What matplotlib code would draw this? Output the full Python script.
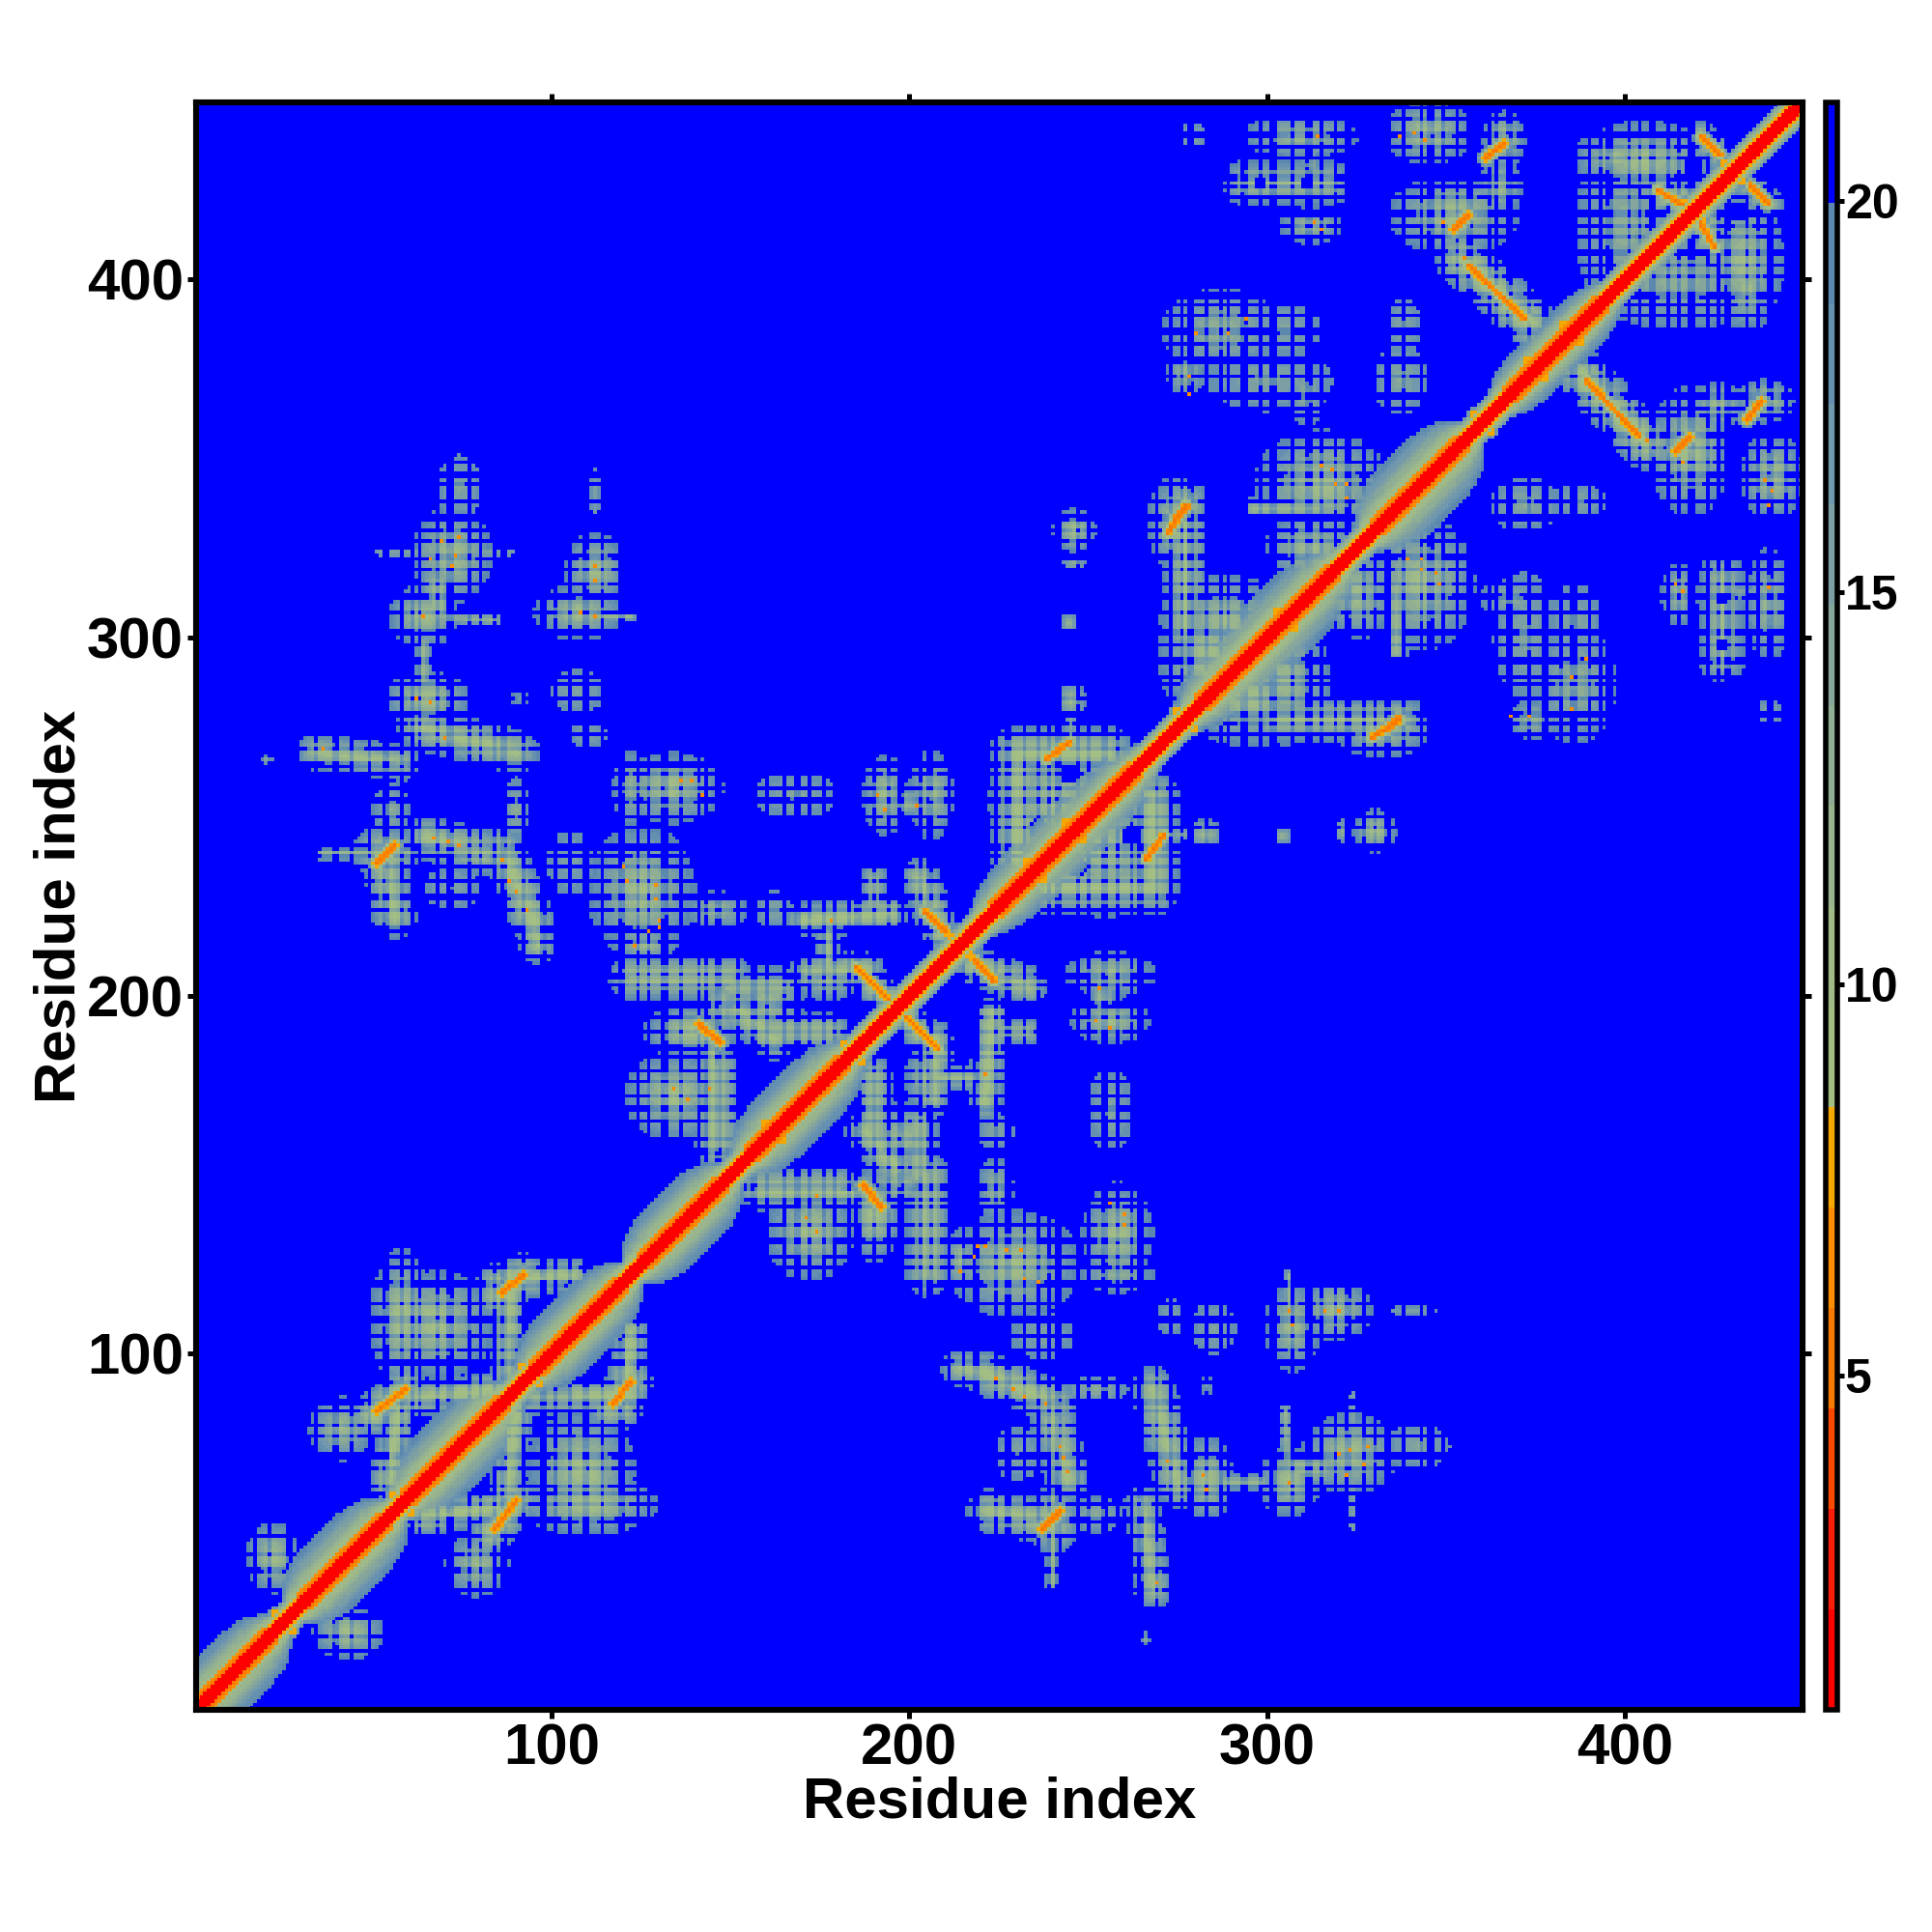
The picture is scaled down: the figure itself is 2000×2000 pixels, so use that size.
#coding:utf-8
import numpy as np
import matplotlib
matplotlib.use('Agg')
import matplotlib.pyplot as plt
from matplotlib.colors import ListedColormap, BoundaryNorm

plt.rcParams['font.family'] = ['Liberation Sans', 'DejaVu Sans']
plt.rcParams['font.weight'] = 'bold'

n_res = 449

# stretches where the band along the diagonal is wide: first residue, last residue, reach in |i-j|
band_start = [-8, 28, 57, 93, 123, 153, 220, 278, 328, 365]
band_end = [24, 56, 89, 122, 150, 184, 267, 322, 357, 396]
band_reach = [15, 16, 16, 15, 15, 15, 14, 16, 17, 12]
thin_reach = 7

# ridges away from the diagonal: x0, y0, x1, y1, half width, distance at the core (A)
arms = [
    (50, 83, 59, 90, 5, 10), (85, 116, 92, 122, 5, 10), (54, 64, 58, 90, 4, 11),
    (87, 95, 87, 118, 3.5, 12), (60, 87, 84, 90, 4, 11), (90, 120, 103, 122, 4, 11),
    (120, 84, 122, 106, 4, 12), (107, 88, 122, 88, 4, 11),
    (122, 205, 150, 205, 5, 11.5), (150, 203, 164, 203, 4, 12), (171, 206, 188, 207, 4, 11.5),
    (184, 208, 196, 197, 4, 11), (203, 233, 208, 218, 4.5, 11), (170, 221, 195, 223, 4, 11),
    (190, 225, 190, 233, 3, 13), (177, 206, 177, 218, 3, 13), (145, 160, 145, 186, 3, 12),
    (152, 196, 162, 188, 5, 11.5), (160, 190, 178, 190, 4, 12), (158, 146, 180, 146, 5, 11),
    (230, 238, 230, 268, 6, 12), (230, 268, 255, 268, 6, 11),
    (302, 277, 338, 277, 5, 12.5), (329, 273, 337, 278, 4, 11), (296, 336, 314, 336, 3, 14),
    (294, 427, 317, 427, 5, 13.5), (354, 406, 373, 388, 6, 10.5),
    (52, 323, 88, 323, 1.5, 15), (64, 306, 84, 305, 1.5, 15), (68, 315, 68, 307, 4, 13),
    (64, 298, 64, 288, 2, 14), (63, 275, 90, 268, 5, 12), (34, 268, 58, 265, 4, 12.5),
    (36, 240, 60, 240, 2, 14), (65, 244, 81, 240, 5, 11.5), (86, 241, 95, 220, 5, 11),
    (95, 220, 96, 214, 4, 12), (53.5, 236, 56, 222, 5, 11.5), (104, 306, 122, 306, 1.2, 15),
    (421, 440, 426.4, 435, 3.5, 11), (409, 425, 418, 419.5, 4, 11),
]

# orange streaks inside the ridges, same columns as arms
streaks = [
    (51, 84, 59, 90, 2.4, 5.5), (86, 117, 92, 122, 2.4, 5.5), (185, 208, 196, 197, 2, 5.8),
    (204, 223.5, 210, 218, 2.4, 5.5), (141, 192, 147, 187, 2.4, 5.5), (238, 266, 245, 271, 2.2, 5.5),
    (274, 333, 277.5, 336.5, 2.2, 5.5), (329, 272, 337, 277, 2.2, 5.5), (361, 434, 366, 438, 2.4, 5.5),
    (352, 414, 356, 418, 2.4, 5.3), (356, 404, 372, 389, 2.2, 5.6), (51, 237, 56, 242, 2.4, 5.5),
    (421, 440, 426.4, 435, 2.2, 5.6), (409, 425, 418, 419.5, 2.2, 5.6),
]

# residues where a short orange spur crosses the diagonal
spur_centers = [25, 58, 94, 162, 184, 214, 235, 246, 277, 305, 360, 375, 385, 419, 430]

# elliptical patches: centre x, centre y, radius x, radius y, distance at the centre
patches = [
    (22, 43, 6, 8, 12), (41, 79, 7, 7, 13), (58, 110, 7, 16, 11), (67, 111, 14, 7, 12),
    (108, 68, 12, 13, 11.5), (125, 229, 12, 15, 11.5), (126, 214, 7, 3, 13),
    (133, 258, 12, 8, 11.5), (122, 258, 4, 8, 15), (168, 256, 9, 5, 17),
    (193, 256, 5, 9, 12), (206, 256, 5, 10, 12), (199, 254, 6, 3, 12),
    (146, 224, 7, 4, 13.5), (162, 224, 4, 4, 17), (139, 190, 11, 6, 11), (134, 172, 11, 10, 11.5),
    (147, 197, 4, 8, 12), (198, 160, 7, 8, 12.5), (205, 177, 5, 8, 12), (240, 255, 14, 16, 13),
    (246, 330, 5, 5, 11.5), (246, 321, 2.5, 2, 16), (244.5, 304, 2, 2.5, 15),
    (245, 282.5, 3.5, 4, 13), (245, 276, 1.5, 3, 16), (275, 332, 7, 11, 11.5), (279, 313, 4, 6, 16),
    (283, 295, 11, 14, 12), (305, 288, 10, 14, 13), (315, 343, 15, 12, 11.5), (312, 325, 10, 8, 12),
    (287, 386, 13, 9, 14.5), (277, 374, 4, 6, 14), (300, 372, 14, 7, 17), (311, 368, 4, 7, 16),
    (305, 386, 8, 6, 17), (312, 415, 7, 4, 13), (309, 440, 13, 4.5, 13.5), (312, 432, 2, 4, 15),
    (279, 440, 3, 3, 17), (345, 441, 10, 7, 11.5), (366, 439, 5, 6.5, 10.5), (365, 426, 5, 6, 12),
    (352, 418, 15, 9, 11.5), (337, 372, 6, 8, 16.5), (338, 387, 4, 6, 17),
    (405, 433, 16, 9, 12), (415, 422, 10, 6, 12), (415, 400, 20, 11, 15), (434, 397, 5, 9, 12),
    (72, 323, 9, 11, 11.5), (74, 342, 5, 7, 17), (64, 306, 8, 7, 11.5), (65, 283, 10, 6, 11.5),
    (20.7, 265.3, 1.5, 1.5, 12), (53.5, 240, 8, 6, 10.5), (112, 319, 7, 8, 12),
    (107.5, 307, 10, 6, 12.5), (112, 340, 1, 6, 18), (91, 283, 3, 1, 15), (107, 285, 6, 5, 17.5),
    (110, 273, 4, 3, 18), (55, 252, 4, 6, 16), (90, 252, 3, 7, 16), (105, 237, 5, 7, 18),
    (72, 230, 6, 5, 17.5),
]

# round gaps inside the patches: x, y, radius
holes = [
    (236, 246.5, 3), (245, 262, 3), (298, 427, 1.5), (311, 427, 1.5), (419, 431, 3),
    (430, 418.6, 3), (411, 419.5, 1.5),
]

# single orange cells
hot_x = [72.8, 69.3, 73.6, 65.5, 72.4, 112.4, 112.4, 108, 112, 64.3, 65.7, 62.5, 70, 36.5, 135.7, 141.6, 139.3,
         120.5, 121.4, 129, 126.7, 130.4, 129, 88, 90.4, 92.6, 86, 70.6, 73.8, 66.6, 129.9, 126.7, 123, 178,
         191, 193, 202, 134, 137.5, 144.2, 220.6, 315, 317.7, 318.6, 321.7, 322.2, 289, 280.4, 294.3, 277.7,
         278, 341, 344, 337, 313.2, 315.4, 314, 348.7, 355.4]
hot_y = [323.4, 327, 327.5, 322.5, 319.8, 319.8, 316, 306.7, 306, 305.8, 282, 283, 272, 269, 260.4, 256.3, 260,
         235.6, 232, 227, 218, 219, 230.7, 232.5, 229, 224.4, 238, 243.3, 242, 243.7, 220.8, 218, 213.6, 220.8,
         256.3, 252.3, 253.2, 174, 170.8, 173.5, 178, 347.5, 347, 343.4, 343.4, 339.4, 385.3, 384.8, 388.9, 372.7,
         367.7, 441, 439.3, 439.8, 416, 414, 439.7, 416, 405.5]

# residues whose rows and columns look thinned out in the map
gap_residues = [2, 3, 8, 11, 12, 17, 21, 26, 27, 29, 34, 39, 40, 44, 49, 53, 54, 58, 61, 63, 68, 71, 72, 77, 80, 84,
                86, 87, 92, 97, 98, 101, 105, 109, 110, 114, 119, 120, 124, 127, 131, 132, 136, 141, 143, 146, 147,
                152, 156, 157, 160, 165, 168, 169, 172, 176, 179, 183, 185, 186, 190, 194, 197, 198, 203, 205, 206,
                211, 215, 218, 219, 224, 227, 228, 232, 236, 239, 241, 242, 247, 250, 254, 255, 258, 262, 264, 265,
                269, 273, 276, 278, 279, 283, 287, 289, 293, 294, 298, 301, 302, 307, 311, 312, 315, 319, 322, 323,
                327, 330, 333, 334, 338, 343, 345, 346, 349, 353, 356, 357, 362, 364, 367, 368, 373, 377, 378, 382,
                385, 386, 390, 393, 395, 396, 401, 404, 407, 408, 412, 415, 418, 419, 423, 426, 428, 429, 434, 437,
                440, 441, 445, 448]

# colour levels of the scale
level_colors = ['#ff0000', '#f81e08', '#fb4a00', '#f97a00', '#fb8d00', '#f5a800',
                '#a3bf84', '#a0bb88', '#98b58e', '#90ae94', '#86a69c', '#7c9fa4', '#7198ac', '#6590b0', '#5c88b0',
                '#0000ff']
scale_min = 0.73
scale_max = 21.26
scale_ticks = [5, 10, 15, 20]
axis_ticks = [100, 200, 300, 400]

idx = np.arange(1, n_res + 1)
X, Y = np.meshgrid(idx, idx)
dist = np.full((n_res, n_res), 30.0)


def ridge_distance(x0, y0, x1, y1):
    dx, dy = x1 - x0, y1 - y0
    t = np.clip(((X - x0) * dx + (Y - y0) * dy) / float(dx * dx + dy * dy), 0, 1)
    return np.hypot(X - x0 - t * dx, Y - y0 - t * dy)


# broad contacts, they fade out past their edge so the plaid below can fringe them
for x0, y0, x1, y1, w, core in arms:
    d = ridge_distance(x0, y0, x1, y1) / w
    dist = np.minimum(dist, np.where(d < 1.3, core + (20.6 - core) * d, 30.0))
for cx, cy, rx, ry, core in patches:
    d = np.hypot((X - cx) / rx, (Y - cy) / ry)
    dist = np.minimum(dist, np.where(d < 1.3, core + (20.6 - core) * d, 30.0))
for cx, cy, r in holes:
    dist[np.hypot(X - cx, Y - cy) < r] = 30.0
dist = np.minimum(dist, dist.T)

# plaid of thinned rows and columns
is_gap = np.isin(idx, gap_residues)
one_gap = is_gap[None, :] ^ is_gap[:, None]
two_gap = is_gap[None, :] & is_gap[:, None]
plaid = np.where(two_gap, 7.0, np.where(one_gap, 2.0, -3.0))
dist = np.maximum(dist + plaid, np.minimum(dist, 9.0))

for x0, y0, x1, y1, w, core in streaks:
    d = ridge_distance(x0, y0, x1, y1) / w
    dist = np.minimum(dist, np.where(d < 1, core + (20.6 - core) * d ** 2, 30.0))
for c in spur_centers:
    d = ridge_distance(c - 2.5, c + 2.5, c + 2.5, c - 2.5) / 1.8
    dist = np.minimum(dist, np.where(d < 1, 5.8 + (20.6 - 5.8) * d ** 2, 30.0))
for x, y in zip(hot_x, hot_y):
    dist[int(round(y)) - 1, int(round(x)) - 1] = 6.8
dist = np.minimum(dist, dist.T)

# band along the diagonal, helices taper towards both ends of their stretch
sep = np.abs(X - Y)
along = (X + Y) / 2.0
reach_here = np.full((n_res, n_res), float(thin_reach))
helix = np.zeros((n_res, n_res), dtype=bool)
for s, e, reach in zip(band_start, band_end, band_reach):
    t = np.abs(2.0 * (along - s) / (e - s) - 1.0)
    inside = t < 1
    reach_here[inside] = (thin_reach + (reach - thin_reach) * (1 - t ** 4))[inside]
    helix |= t < 0.85
band = 9.0 + (20.6 - 9.0) * np.maximum(sep - 4, 0) / (reach_here - 4)
dist = np.minimum(dist, np.where(sep <= reach_here, band, 30.0))
dist[sep == 4] = np.where(helix[sep == 4], 6.5, 10.5)
dist[sep == 3] = np.where(helix[sep == 3], 5.2, 7.2)
dist[sep <= 2] = 1.5

dist = np.clip(dist, scale_min, scale_max - 0.01)

cmap = ListedColormap(level_colors)
edges = np.linspace(scale_min, scale_max, len(level_colors) + 1)
norm = BoundaryNorm(edges, cmap.N)

fig = plt.figure(figsize=(10, 10), dpi=200)
ax = fig.add_axes([203 / 2000., 230 / 2000., 1663 / 2000., 1664 / 2000.])
im = ax.imshow(dist, origin='lower', extent=(0.7, n_res + 0.7, 0.5, n_res + 0.5),
               cmap=cmap, norm=norm, interpolation='nearest', aspect='auto')
ax.set_xticks(axis_ticks)
ax.set_yticks(axis_ticks)
ax.tick_params(top=True, right=True, length=3.2, width=1.8, labelsize=21.6, pad=1.5)
for s in ax.spines.values():
    s.set_linewidth(2.2)
ax.set_xlabel('Residue index', fontsize=21.6, fontweight='bold', labelpad=0)
ax.set_ylabel('Residue index', fontsize=21.6, fontweight='bold', labelpad=0)

cax = fig.add_axes([1890 / 2000., 230 / 2000., 11.5 / 2000., 1664 / 2000.])
cb = fig.colorbar(im, cax=cax, ticks=scale_ticks, spacing='proportional')
cb.ax.minorticks_off()
cb.ax.set_yticklabels([str(t) for t in scale_ticks])
cb.ax.tick_params(length=2.5, width=1.8, labelsize=18, pad=0.5)
cb.outline.set_linewidth(2)
cb.dividers.set_visible(False)

plt.savefig('out.png', dpi=200)
